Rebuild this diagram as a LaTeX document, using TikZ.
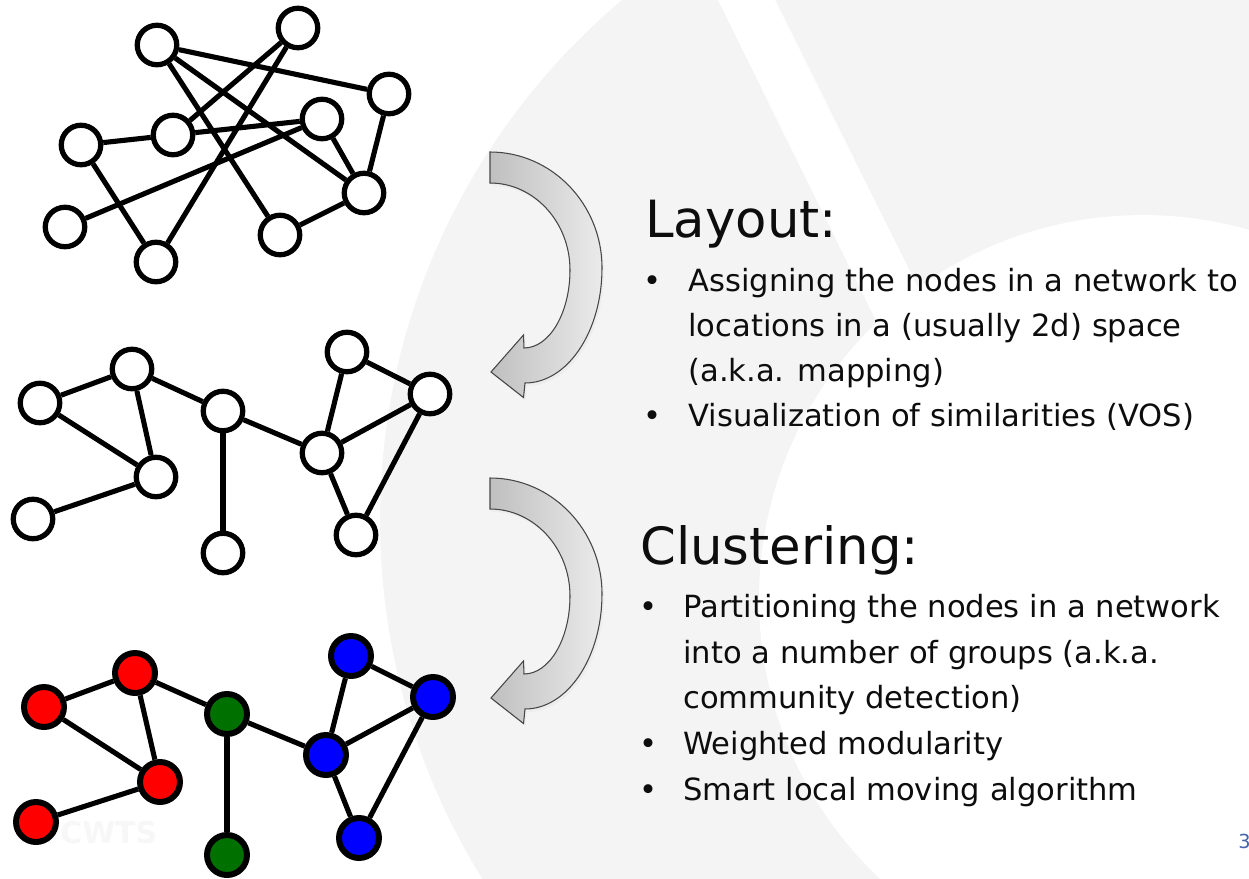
\documentclass[tikz,border=0pt]{standalone}
\usepackage{fontspec}
\setmainfont{DejaVu Sans}
\definecolor{bgg}{RGB}{244,244,244}
\definecolor{nred}{RGB}{255,0,0}
\definecolor{ngreen}{RGB}{0,112,0}
\definecolor{nblue}{RGB}{0,0,255}
\definecolor{pnum}{RGB}{70,100,170}
\tikzset{
  gnode/.style={circle, draw=black, line width=3pt, fill=white, minimum size=0.79cm, inner sep=0pt},
  cnode/.style={gnode, line width=3.4pt, minimum size=0.80cm},
  gedge/.style={line width=2.9pt},
  vedge/.style={line width=3.9pt},
  bodytext/.style={anchor=base west, inner sep=0pt, text=black!95, font=\fontsize{17.4}{20}\selectfont},
  titletext/.style={anchor=base west, inner sep=0pt, text=black!95, font=\fontsize{29.2}{34}\selectfont},
  arrowbody/.style={draw=black!72, line width=0.6pt, left color=black!25, right color=black!8}
}
\begin{document}
\begin{tikzpicture}[x=0.02cm,y=-0.02cm]
\useasboundingbox (0,0) rectangle (1249,879);
\fill[white] (0,0) rectangle (1249,879);
% faint background watermark shapes
\begin{scope}
  \clip (0,0) rectangle (1249,879);
  \fill[bgg] (1060,520) circle[radius=13.6cm];
  \fill[white] (718,0) -- (775,0) -- (984,420) -- (925,420) -- cycle;
  \fill[white] (1143,599) circle[radius=7.68cm];
\end{scope}
\node[anchor=base west, inner sep=0pt, text=black!3, font=\bfseries\fontsize{17}{20}\selectfont] (wm) at (60,843) {CWTS};

% curved arrows
\foreach \dy in {0,326}{
\begin{scope}[shift={(0,\dy)}]
  \fill[black!7] ([shift={(2,3)}]490,152) .. controls ([shift={(2,3)}]551.8,152) and ([shift={(2,3)}]602,204) .. ([shift={(2,3)}]602,268) .. controls ([shift={(2,3)}]602,331.5) and ([shift={(2,3)}]567.5,383) .. ([shift={(2,3)}]525,383) -- ([shift={(2,3)}]523.5,397.5) -- ([shift={(2,3)}]491,372) -- ([shift={(2,3)}]523.5,335) -- ([shift={(2,3)}]524,348) .. controls ([shift={(2,3)}]549.4,348) and ([shift={(2,3)}]570,313) .. ([shift={(2,3)}]570,270) .. controls ([shift={(2,3)}]570,222) and ([shift={(2,3)}]534,183) .. ([shift={(2,3)}]490,183) -- cycle;
  \filldraw[arrowbody] (490,152) .. controls (551.8,152) and (602,204) .. (602,268) .. controls (602,331.5) and (567.5,383) .. (525,383) -- (523.5,397.5) -- (491,372) -- (523.5,335) -- (524,348) .. controls (549.4,348) and (570,313) .. (570,270) .. controls (570,222) and (534,183) .. (490,183) -- cycle;
\end{scope}
}

% top graph
\node[gnode] (ta) at (157,45) {};
\node[gnode] (tb) at (298,28) {};
\node[gnode] (tc) at (389,94) {};
\node[gnode] (td) at (81,145) {};
\node[gnode] (te) at (173,135) {};
\node[gnode] (tf) at (322,119) {};
\node[gnode] (tg) at (364,193) {};
\node[gnode] (th) at (65,227) {};
\node[gnode] (ti) at (156,262) {};
\node[gnode] (tj) at (280,235) {};
\draw[gedge] (ta) -- (tc);
\draw[gedge] (ta) -- (tj);
\draw[gedge] (ta) -- (tg);
\draw[gedge] (tb) -- (te);
\draw[gedge] (tb) -- (ti);
\draw[gedge] (td) -- (te);
\draw[gedge] (td) -- (ti);
\draw[gedge] (te) -- (tf);
\draw[gedge] (th) -- (tf);
\draw[gedge] (tf) -- (tg);
\draw[gedge] (tc) -- (tg);
\draw[gedge] (tj) -- (tg);

% middle graph
\node[gnode] (ma) at (40,403) {};
\node[gnode] (mb) at (132,369) {};
\node[gnode] (mc) at (223,411) {};
\node[gnode] (md) at (156,477) {};
\node[gnode] (me) at (33,519) {};
\node[gnode] (mf) at (223,553) {};
\node[gnode] (mg) at (347,352) {};
\node[gnode] (mh) at (430,394) {};
\node[gnode] (mi) at (322,453) {};
\node[gnode] (mj) at (356,535) {};
\draw[gedge] (ma) -- (mb);
\draw[gedge] (ma) -- (md);
\draw[gedge] (mb) -- (md);
\draw[gedge] (mb) -- (mc);
\draw[gedge] (md) -- (me);
\draw[vedge] (mc) -- (mf);
\draw[gedge] (mc) -- (mi);
\draw[gedge] (mi) -- (mg);
\draw[gedge] (mg) -- (mh);
\draw[gedge] (mi) -- (mh);
\draw[gedge] (mi) -- (mj);
\draw[gedge] (mh) -- (mj);

% bottom graph (clustered)
\node[cnode, fill=nred] (ba) at (44,707) {};
\node[cnode, fill=nred] (bb) at (135,673) {};
\node[cnode, fill=ngreen] (bc) at (227,714) {};
\node[cnode, fill=nred] (bd) at (160,782) {};
\node[cnode, fill=nred] (be) at (36,822) {};
\node[cnode, fill=ngreen] (bf) at (227,855) {};
\node[cnode, fill=nblue] (bg) at (351,656) {};
\node[cnode, fill=nblue] (bh) at (433,697) {};
\node[cnode, fill=nblue] (bi) at (326,755) {};
\node[cnode, fill=nblue] (bj) at (359,838) {};
\draw[gedge] (ba) -- (bb);
\draw[gedge] (ba) -- (bd);
\draw[gedge] (bb) -- (bd);
\draw[gedge] (bb) -- (bc);
\draw[gedge] (bd) -- (be);
\draw[vedge] (bc) -- (bf);
\draw[gedge] (bc) -- (bi);
\draw[gedge] (bi) -- (bg);
\draw[gedge] (bg) -- (bh);
\draw[gedge] (bi) -- (bh);
\draw[gedge] (bi) -- (bj);
\draw[gedge] (bh) -- (bj);

% text
\node[titletext] (lay) at (645,237) {Layout:};
\node[bodytext] (lb1) at (643,291) {•};
\node[bodytext] (l1) at (688,291) {Assigning the nodes in a network to};
\node[bodytext] (l2) at (688,336) {locations in a (usually 2d) space};
\node[bodytext] (l3) at (688,381) {(a.k.a. mapping)};
\node[bodytext] (lb2) at (643,426) {•};
\node[bodytext] (l4) at (688,426) {Visualization of similarities (VOS)};

\node[titletext] (clu) at (640,564) {Clustering:};
\node[bodytext] (cb1) at (639,617) {•};
\node[bodytext] (c1) at (683,617) {Partitioning the nodes in a network};
\node[bodytext] (c2) at (683,663) {into a number of groups (a.k.a.};
\node[bodytext] (c3) at (683,708) {community detection)};
\node[bodytext] (cb2) at (639,754) {•};
\node[bodytext] (c4) at (683,754) {Weighted modularity};
\node[bodytext] (cb3) at (639,800) {•};
\node[bodytext] (c5) at (683,800) {Smart local moving algorithm};

\node[anchor=base west, inner sep=0pt, text=pnum, font=\fontsize{11}{13}\selectfont] (pg) at (1238,848) {3};
\end{tikzpicture}
\end{document}
